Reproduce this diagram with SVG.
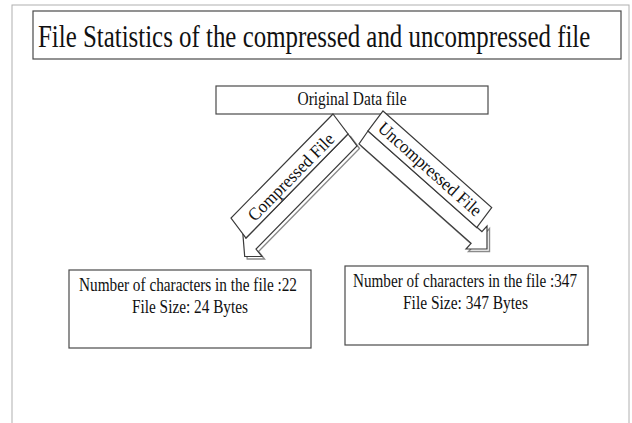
<svg xmlns="http://www.w3.org/2000/svg" width="632" height="423" viewBox="0 0 632 423">
  <style>
    .box { fill: #ffffff; stroke: #4a4a4a; stroke-width: 1.2; }
    .frame { fill: #ffffff; stroke: #b0b0b0; stroke-width: 1; }
    .txt { font-family: "Liberation Serif", "Times New Roman", serif; fill: #111111; }
    .arrow { fill: #ffffff; stroke: #3a3a3a; stroke-width: 1.2; stroke-linejoin: miter; }
    .arrow-shadow { fill: #ffffff; stroke: #8a8a8a; stroke-width: 1.4; }
    .tag { fill: #ffffff; stroke: #3a3a3a; stroke-width: 1.2; }
  </style>

  <!-- slide background and outer frame -->
  <rect x="0" y="0" width="632" height="423" fill="#ffffff"/>
  <rect class="frame" x="12" y="5" width="617" height="430"/>

  <!-- title banner -->
  <g id="title">
    <rect class="box" x="33" y="11" width="588" height="48"/>
    <text class="txt" font-size="31" transform="translate(38,47) scale(0.803,1)">File Statistics of the compressed and uncompressed file</text>
  </g>

  <!-- source node -->
  <g id="node-original">
    <rect class="box" x="216" y="86" width="272" height="28"/>
    <text class="txt" x="352" y="105" font-size="18" text-anchor="middle" textLength="109" lengthAdjust="spacingAndGlyphs">Original Data file</text>
  </g>

  <!-- block arrows with their labels -->
  <g id="connectors">
    <g id="arrow-compressed">
      <polygon class="arrow-shadow" transform="translate(2.5,2.5)" points="348,134 357,146 256,249 262,256.5 244.7,256.5 242.7,232 246,238"/>
      <polygon class="arrow" points="348,134 357,146 256,249 262,256.5 244.7,256.5 242.7,232 246,238"/>
      <polygon class="tag" points="333,114 348,134 246,238 231,218"/>
      <text class="txt" font-size="18" text-anchor="middle" dominant-baseline="central" textLength="115" lengthAdjust="spacingAndGlyphs" transform="translate(291,177) rotate(-45.5)">Compressed File</text>
    </g>
    <g id="arrow-uncompressed">
      <polygon class="arrow-shadow" transform="translate(2.5,2.5)" points="368,131 359,144 471.1,243.4 466,249 487,249 487,226 481.9,231.6"/>
      <polygon class="arrow" points="368,131 359,144 471.1,243.4 466,249 487,249 487,226 481.9,231.6"/>
      <polygon class="tag" points="383,111 491.7,207.5 476.7,227.5 368,131"/>
      <text class="txt" font-size="18" text-anchor="middle" dominant-baseline="central" textLength="132" lengthAdjust="spacingAndGlyphs" transform="translate(430,169) rotate(41.6)">Uncompressed File</text>
    </g>
  </g>

  <!-- result nodes -->
  <g id="node-compressed-stats">
    <rect class="box" x="69" y="270" width="242" height="78"/>
    <text class="txt" x="188" y="291" font-size="18" text-anchor="middle" textLength="218" lengthAdjust="spacingAndGlyphs">Number of characters in the file :22</text>
    <text class="txt" x="190" y="313" font-size="18" text-anchor="middle" textLength="116" lengthAdjust="spacingAndGlyphs">File Size: 24 Bytes</text>
  </g>

  <g id="node-uncompressed-stats">
    <rect class="box" x="345" y="266" width="243" height="79"/>
    <text class="txt" x="465" y="287" font-size="18" text-anchor="middle" textLength="224" lengthAdjust="spacingAndGlyphs">Number of characters in the file :347</text>
    <text class="txt" x="465.5" y="309" font-size="18" text-anchor="middle" textLength="125" lengthAdjust="spacingAndGlyphs">File Size: 347 Bytes</text>
  </g>
</svg>
